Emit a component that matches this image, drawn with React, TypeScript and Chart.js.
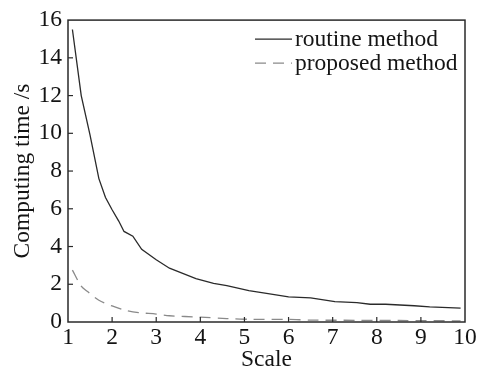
import React, { useEffect, useRef } from "react";
import { Chart, registerables } from "chart.js";

Chart.register(...registerables);

const routineX = [1.1, 1.3, 1.5, 1.7, 1.85, 2.0, 2.15, 2.27, 2.47, 2.67, 3.0, 3.3, 3.9, 4.3, 4.6, 5.1, 5.5, 6.0, 6.5, 7.05, 7.55, 7.85, 8.2, 8.85, 9.2, 9.9];
const routineY = [15.5, 12.0, 9.9, 7.6, 6.6, 5.95, 5.35, 4.8, 4.55, 3.85, 3.3, 2.85, 2.3, 2.05, 1.93, 1.66, 1.52, 1.33, 1.28, 1.08, 1.03, 0.94, 0.94, 0.86, 0.8, 0.74];
const proposedX = [1.1, 1.3, 1.45, 1.7, 2.0, 2.3, 2.6, 3.0, 3.3, 4.0, 4.6, 5.2, 6.0, 6.5, 7.5, 8.5, 9.9];
const proposedY = [2.75, 1.9, 1.6, 1.15, 0.85, 0.62, 0.5, 0.42, 0.33, 0.26, 0.18, 0.14, 0.14, 0.1, 0.09, 0.08, 0.06];
const seriesNames = ["routine method", "proposed method"];
const xTitle = "Scale";
const yTitle = "Computing time /s";

const FONT = "'Liberation Serif', 'DejaVu Serif', serif";
const FS = 23.5;
const INK = "#141414";

const framePlugin = {
  id: "frameAndTicks",
  afterDraw(chart: any) {
    const { ctx, chartArea } = chart;
    const xs = chart.scales.x;
    const ys = chart.scales.y;
    ctx.save();
    ctx.strokeStyle = "#2a2a2a";
    ctx.lineWidth = 1.5;
    ctx.setLineDash([]);
    ctx.strokeRect(chartArea.left, chartArea.top, chartArea.right - chartArea.left, chartArea.bottom - chartArea.top);
    ctx.lineWidth = 1.2;
    for (let v = 2; v <= 9; v++) {
      const px = xs.getPixelForValue(v);
      ctx.beginPath();
      ctx.moveTo(px, chartArea.bottom);
      ctx.lineTo(px, chartArea.bottom - 5);
      ctx.stroke();
    }
    for (let v = 2; v <= 14; v += 2) {
      const py = ys.getPixelForValue(v);
      ctx.beginPath();
      ctx.moveTo(chartArea.left, py);
      ctx.lineTo(chartArea.left + 5, py);
      ctx.stroke();
    }
    // legend
    const lx0 = chartArea.right - 210;
    const lx1 = lx0 + 37;
    const rows = [
      { y: chartArea.top + 19, color: "#2a2a2a", dash: [] as number[] },
      { y: chartArea.top + 43, color: "#8a8a8a", dash: [11, 7] },
    ];
    ctx.font = `${FS}px ${FONT}`;
    ctx.fillStyle = INK;
    ctx.textBaseline = "alphabetic";
    ctx.textAlign = "left";
    rows.forEach((r, i) => {
      ctx.strokeStyle = r.color;
      ctx.lineWidth = 1.3;
      ctx.setLineDash(r.dash);
      ctx.beginPath();
      ctx.moveTo(lx0, r.y);
      ctx.lineTo(lx1, r.y);
      ctx.stroke();
      ctx.setLineDash([]);
      ctx.fillText(seriesNames[i], lx1 + 3, r.y + 7);
    });
    ctx.restore();
  },
};

export default function App() {
  const ref = useRef<HTMLCanvasElement>(null);
  useEffect(() => {
    if (!ref.current) return;
    const chart = new Chart(ref.current, {
      type: "line",
      data: {
        datasets: [
          {
            label: seriesNames[0],
            data: routineX.map((x, i) => ({ x, y: routineY[i] })),
            borderColor: "#2a2a2a",
            borderWidth: 1.3,
            pointRadius: 0,
            tension: 0,
            fill: false,
          },
          {
            label: seriesNames[1],
            data: proposedX.map((x, i) => ({ x, y: proposedY[i] })),
            borderColor: "#8a8a8a",
            borderWidth: 1.3,
            borderDash: [11, 7],
            pointRadius: 0,
            tension: 0.3,
            fill: false,
          },
        ],
      },
      options: {
        animation: false,
        responsive: true,
        maintainAspectRatio: false,
        layout: { padding: { top: 9, right: 25, left: 0, bottom: 0 } },
        plugins: { legend: { display: false }, tooltip: { enabled: false } },
        scales: {
          x: {
            type: "linear",
            min: 1,
            max: 10,
            ticks: { stepSize: 1, font: { family: FONT, size: FS }, color: INK, padding: 2, maxRotation: 0 },
            grid: { display: true, drawOnChartArea: false, drawTicks: false, color: "rgba(0,0,0,0)" },
            border: { display: false },
            title: { display: true, text: xTitle, font: { family: FONT, size: FS }, color: INK, padding: { top: 0, bottom: 0 } },
            afterFit: (s: any) => { s.height = 52; },
          },
          y: {
            type: "linear",
            min: 0,
            max: 16,
            ticks: { stepSize: 2, font: { family: FONT, size: FS }, color: INK, padding: 6 },
            grid: { display: true, drawOnChartArea: false, drawTicks: false, color: "rgba(0,0,0,0)" },
            border: { display: false },
            title: { display: true, text: yTitle, font: { family: FONT, size: FS }, color: INK, padding: { top: 9, bottom: 0 } },
            afterFit: (s: any) => { s.width = 68; },
          },
        },
      },
      plugins: [framePlugin],
    });
    return () => chart.destroy();
  }, []);
  return (
    <div style={{ position: "absolute", left: 0, top: 0, width: 490, height: 374, background: "#fff" }}>
      <canvas ref={ref} />
    </div>
  );
}
